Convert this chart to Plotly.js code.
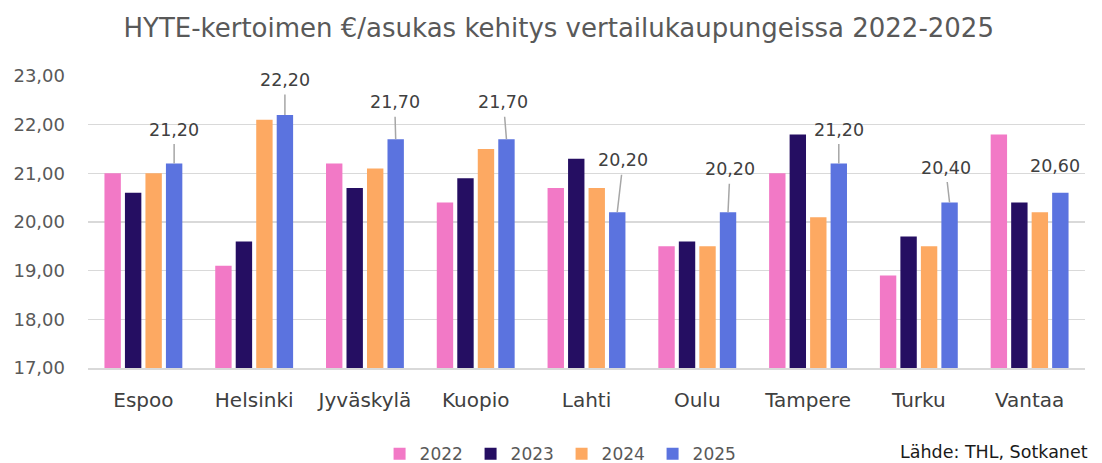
<!DOCTYPE html>
<html>
<head>
<meta charset="utf-8">
<script src="https://cdn.plot.ly/plotly-3.0.1.min.js"></script>
<style>html,body{margin:0;padding:0;background:#fff;}#chart{width:1102px;height:463px;}</style>
</head>
<body>
<div id="chart"></div>
<script>
// ---- data ----
var cities = ["Espoo", "Helsinki", "Jyväskylä", "Kuopio", "Lahti", "Oulu", "Tampere", "Turku", "Vantaa"];
var years = ["2022", "2023", "2024", "2025"];
var v2022 = [21.0, 19.1, 21.2, 20.4, 20.7, 19.5, 21.0, 18.9, 21.8];
var v2023 = [20.6, 19.6, 20.7, 20.9, 21.3, 19.6, 21.8, 19.7, 20.4];
var v2024 = [21.0, 22.1, 21.1, 21.5, 20.7, 19.5, 20.1, 19.5, 20.2];
var v2025 = [21.2, 22.2, 21.7, 21.7, 20.2, 20.2, 21.2, 20.4, 20.6];
var yTicks = [17, 18, 19, 20, 21, 22, 23];

// ---- style ----
var colors = ["#F279C6", "#250E62", "#FDA962", "#5B73DF"];
var series = [v2022, v2023, v2024, v2025];
var bargap = 0.26, bargroupgap = 0.2;
var FONT = "DejaVu Sans, sans-serif";
// label offsets (pixels) for 2025 labels: [dx, dy, arrow]
var labelOffsets = [[0,-34,1],[0,-35,1],[-1,-37,1],[-3,-37,1],[6,-52,1],[2,-43,1],[0,-34,1],[-4,-35,1],[-5,-27,0]];

var traces = series.map(function (vals, k) {
  return {
    type: "bar", x: cities, y: vals, name: years[k],
    marker: {color: colors[k]}, hoverinfo: "x+y+name"
  };
});

function fmt(v) { return v.toFixed(2).replace(".", ","); }

var annotations = v2025.map(function (v, i) {
  var o = labelOffsets[i];
  var a = {
    x: i + 1.5 * (1 - bargap) / 4, y: v, xref: "x", yref: "y",
    text: fmt(v), font: {family: FONT, size: 17.5, color: "#404040"}
  };
  if (o[2]) {
    a.showarrow = true; a.arrowhead = 0; a.arrowwidth = 1.5; a.arrowcolor = "#A6A6A6";
    a.ax = o[0]; a.ay = o[1]; a.axref = "pixel"; a.ayref = "pixel"; a.standoff = 0; a.startstandoff = 3;
  } else {
    a.showarrow = false; a.xshift = o[0]; a.yshift = -o[1];
  }
  return a;
});

annotations.push({
  xref: "paper", yref: "paper", x: 1.005, y: -0.288, xanchor: "right", yanchor: "middle",
  showarrow: false, text: "Lähde: THL, Sotkanet",
  font: {family: FONT, size: 17.5, color: "#1a1a1a"}
});

var layout = {
  width: 1102, height: 463,
  margin: {l: 88, r: 17, t: 76, b: 95, autoexpand: false},
  paper_bgcolor: "#fff", plot_bgcolor: "#fff",
  separators: ", ",
  barmode: "group", bargap: bargap, bargroupgap: bargroupgap,
  title: {
    text: "HYTE-kertoimen €/asukas kehitys vertailukaupungeissa 2022-2025",
    font: {family: FONT, size: 26, color: "#595959"},
    x: 0.507, xref: "container", xanchor: "center",
    y: 1 - 28 / 463, yref: "container", yanchor: "middle"
  },
  xaxis: {
    type: "category", showgrid: false, showline: true, linecolor: "#D9D9D9", linewidth: 2,
    ticks: "", ticklabelstandoff: 13,
    tickfont: {family: FONT, size: 20, color: "#404040"}, fixedrange: true
  },
  yaxis: {
    range: [17, 23], tickvals: yTicks, tickformat: ".2f",
    showgrid: true, gridcolor: "#D9D9D9", gridwidth: 1.5, zeroline: false, showline: false,
    ticks: "", ticklabelstandoff: 22,
    tickfont: {family: FONT, size: 18, color: "#595959"}, fixedrange: true
  },
  showlegend: true,
  legend: {
    orientation: "h", x: 0.475, xanchor: "center", y: -0.295, yanchor: "middle",
    entrywidth: 46, entrywidthmode: "pixels",
    font: {family: FONT, size: 17, color: "#595959"}, itemwidth: 30, traceorder: "normal"
  },
  annotations: annotations
};

Plotly.newPlot("chart", traces, layout, {displayModeBar: false, staticPlot: true});
</script>
</body>
</html>
